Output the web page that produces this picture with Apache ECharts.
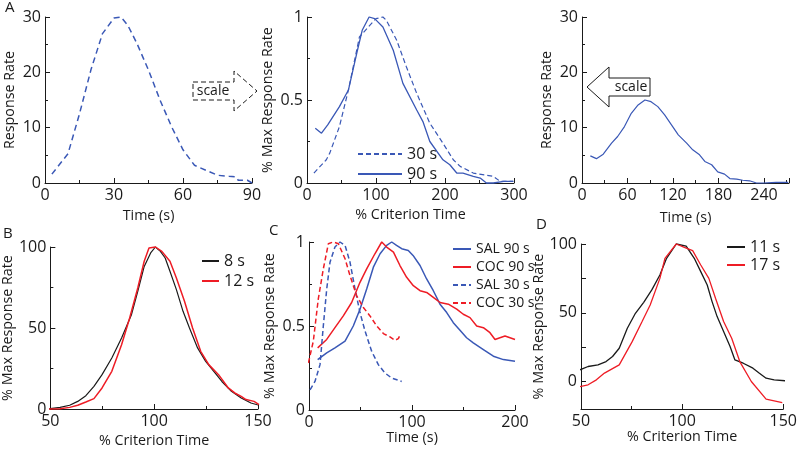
<!DOCTYPE html>
<html><head><meta charset="utf-8">
<script src="https://cdn.jsdelivr.net/npm/echarts@6/dist/echarts.min.js"></script>
<style>html,body{margin:0;padding:0;background:#fff}#c{width:800px;height:450px}</style>
</head><body><div id="c"></div>
<script>
// Panel A (30 s, raw)
const aTime = [3,10,15,20,25,30,33,36,40,45,50,55,60,65,70,75,80,83,84,88,90];
const aRate = [1.6,5.3,12.5,20.5,27,29.8,30,28.5,25.2,20.4,15,10.2,6,3.2,2.3,1.4,1.2,1.1,0.5,0.5,0];
// Panel A middle (scaled)
const midX30 = [10,28,33,47,60,76,91,100,110,115,130,144,159,178,197,212,222,241,270,280,299];
const mid30 = [0.06,0.14,0.18,0.34,0.56,0.88,0.95,0.99,1.0,0.98,0.86,0.70,0.54,0.36,0.24,0.14,0.10,0.06,0.04,0.01,0.01];
const midX90 = [12,21,30,47,60,72,80,90,98,110,125,139,159,168,178,197,207,217,226,241,251,260,270,285,299];
const mid90 = [0.33,0.30,0.35,0.46,0.56,0.78,0.92,1.0,0.99,0.94,0.80,0.60,0.44,0.37,0.25,0.14,0.11,0.06,0.06,0.04,0.03,0,0,0.01,0.01];
// Panel A right (90 s, raw)
const rTime = [11,19,28,39,47,56,65,74,83,91,100,109,118,127,138,146,155,162,171,179,188,195,204,212,221,230,239,256,272];
const rRate = [4.9,4.4,5.2,7.2,8.4,10.2,12.6,14.1,15,14.7,13.8,12.3,10.5,8.7,7.2,6,5.1,3.9,3.3,2.0,1.6,0.8,0.7,0.5,0.4,0,0,0.1,0.1];
// Panel B
const bX8 = [48,50,54.7,59.3,63.2,67.1,71,74.9,79.6,84.3,89,92.1,95.2,98.3,100.6,103,105.3,107.6,110.7,113.9,117,120.9,124.8,129.4,132.6,137.2,141.9,146.6,150.5];
const b8 = [0,0.2,1,2.3,4.7,8.2,14,21.2,31.5,43.8,58,72.6,88,96.3,100,97.3,93.2,85,73.7,60.3,50,37.7,29.4,22.2,17,10.9,6.8,3.7,2.3];
const bX12 = [47.4,54.7,59.3,63.2,67.1,71,74.9,79.6,84.3,88.2,92.1,95.2,97.5,100.6,103.7,107.6,110.7,114.6,118.5,122.4,126.3,131,135.7,138.8,141.9,144.2,148.1,150.5];
const b12 = [0,0.2,1,2.3,4.3,6.4,13,23.3,39.7,56.2,74.7,91.2,99.4,100,97.3,91.2,80.9,66.5,50,35.6,27.4,21.2,13,9.9,7.8,5.8,4.7,2.7];
// Panel C
const cXsal90 = [8.4,17.2,25.2,35,43,49.5,56,62.5,69,75.4,80.3,85,90,96.4,101,107.8,114.2,120.7,127.2,133.7,140.1,146.6,153,159.5,169.3,179,188.7,200];
const cSal90 = [0.30,0.34,0.37,0.41,0.5,0.6,0.72,0.85,0.93,0.98,1.0,0.98,0.96,0.95,0.92,0.86,0.78,0.71,0.63,0.58,0.52,0.475,0.43,0.40,0.36,0.32,0.30,0.29];
const cXcoc90 = [8.4,17.2,25.2,33.3,41.4,49.5,56,64,70.6,75.4,82,88.3,94.8,101.3,107.8,114.2,120.7,127.2,135.3,143.4,149.8,156.3,162.8,169.3,175.7,180.6,185.4,190.3,200];
const cCoc90 = [0.37,0.42,0.49,0.56,0.64,0.76,0.84,0.93,1.0,0.97,0.94,0.86,0.79,0.74,0.71,0.70,0.67,0.64,0.63,0.60,0.57,0.55,0.50,0.49,0.46,0.42,0.43,0.44,0.42];
const cXsal30 = [1,5.8,10.7,13.9,17.2,20.4,25.2,30.1,35,39.8,44.7,49.5,54.4,60.8,67.3,73.8,80.3,90];
const cSal30 = [0.12,0.17,0.27,0.5,0.72,0.88,0.97,1.0,0.98,0.88,0.72,0.58,0.47,0.35,0.27,0.22,0.19,0.17];
const cXcoc30 = [-0.6,4.2,9,13.9,18.8,23.6,28.5,35,39.8,46.3,52.8,59.2,65.7,72.2,78.6,83.5,86.7,88.3];
const cCoc30 = [0.28,0.41,0.66,0.84,0.99,1.0,0.99,0.9,0.8,0.68,0.61,0.56,0.50,0.455,0.435,0.415,0.425,0.445];
// Panel D
const dX11 = [49.5,53.5,58.4,62.4,65.6,68.9,72.9,76.9,81,85,89,92.3,97.1,102,106,109.2,112.4,114.8,117.3,120.5,123.7,126.1,130.2,135,138.2,141.5,145.5,151.1];
const d11 = [8.5,10.9,12.1,14.5,18.2,24.2,38.7,49.6,57.6,66.6,77.5,89.6,100,98.5,89.6,79.9,70.2,58.1,47.2,36.3,25.4,15.7,13.3,9.7,6,2.4,1.2,0.5];
const dX17 = [46,53.5,57.6,61.6,68.9,75.3,80.2,84.2,89,91.5,97.1,101.1,105.2,109.2,113.2,116.5,120.5,124.5,128.5,134.2,141.5,149.5];
const d17 = [-4.8,-2.4,1.2,6.1,12.1,29,43.6,55.7,75,89.6,100,97.6,95.2,84.7,75,60.5,43.6,31.5,14.5,0,-12.8,-15.3];
// Panel D tick positions
const dYTicks = [0,25,50,75,100];
const dYLabels = [0,50,100];

const FONT = '"Open Sans", sans-serif';
const INK = '#1a1a1a';
const BLUE = '#3a58b6';
const RED = '#ee1c25';
const FS = 15;
const NFS = 14.3;

function zip(xs, ys){ return xs.map((x,i)=>[x, ys[i]]); }

function axBase(idx, min, max, interval, name, gap){
  return {type:'value', gridIndex:idx, min, max, interval, name, nameLocation:'middle', nameGap:gap,
    nameTextStyle:{color:INK, fontSize:NFS, fontFamily:FONT},
    axisLine:{show:true, onZero:false, lineStyle:{color:INK, width:1}},
    axisTick:{show:true, inside:true, length:5, lineStyle:{color:INK, width:1}},
    minorTick:{show:true, splitNumber:2, length:3, lineStyle:{color:INK, width:1}},
    splitLine:{show:false}, minorSplitLine:{show:false},
    axisLabel:{color:INK, fontSize:FS+1, fontFamily:FONT, margin:4, showMaxLabel: max % interval === 0}};
}

function ln(name, idx, data, color, dashed, w){
  return {type:'line', name, xAxisIndex:idx, yAxisIndex:idx, data, symbol:'none', clip:false,
    lineStyle:{color, width:w||1.3, type: dashed ? dashed : 'solid'}, itemStyle:{color}, animation:false};
}

const yD = axBase(5, -20, 100, 5, '% Max Response Rate', 35);
yD.axisTick.customValues = dYTicks;
yD.axisLabel.customValues = dYLabels;
yD.axisLabel.showMaxLabel = true;
yD.minorTick = {show:false};

const chart = echarts.init(document.getElementById('c'));
const legText = {color:INK, fontSize:FS+1, fontFamily:FONT};
chart.setOption({
  backgroundColor:'#fff',
  animation:false,
  grid:[
    {left:45, top:17, width:207, height:166},
    {left:307, top:17, width:207, height:166},
    {left:582, top:17, width:207, height:166},
    {left:43, top:247, width:215, height:162},
    {left:309, top:242, width:206, height:168},
    {left:581, top:244, width:207, height:165}
  ],
  xAxis:[
    axBase(0, 0, 90, 30, 'Time (s)', 26),
    axBase(1, 0, 300, 100, '% Criterion Time', 25),
    axBase(2, 0, 273, 60, 'Time (s)', 28),
    axBase(3, 50, 150, 50, '% Criterion Time', 25),
    axBase(4, 0, 200, 100, 'Time (s)', 18),
    axBase(5, 50, 150, 50, '% Criterion Time', 20)
  ],
  yAxis:[
    axBase(0, 0, 30, 10, 'Response Rate', 28),
    axBase(1, 0, 1, 0.5, '% Max Response Rate', 32),
    axBase(2, 0, 30, 10, 'Response Rate', 28),
    axBase(3, 0, 100, 50, '% Max Response Rate', 31),
    axBase(4, 0, 1, 0.5, '% Max Response Rate', 32),
    yD
  ],
  legend:[
    {data:['30 s','90 s'], left:352, top:141, orient:'vertical', itemWidth:44, itemHeight:14, itemGap:4, itemTextGap:3, textStyle:legText, itemStyle:{opacity:0}},
    {data:['8 s','12 s'], left:196, top:248, orient:'vertical', itemWidth:17, itemHeight:14, itemGap:4, textStyle:legText, itemStyle:{opacity:0}},
    {data:['SAL 90 s','COC 90 s','SAL 30 s','COC 30 s'], left:447, top:237, orient:'vertical', itemWidth:18, itemHeight:14, itemGap:4, itemTextGap:3, itemStyle:{opacity:0}, textStyle:{color:INK, fontSize:14, fontFamily:FONT}},
    {data:['11 s','17 s'], left:721, top:234, orient:'vertical', itemWidth:18, itemHeight:14, itemGap:2, itemTextGap:2, textStyle:legText, itemStyle:{opacity:0}}
  ],
  series:[
    ln('A raw 30', 0, zip(aTime, aRate), BLUE, [6,4], 1.5),
    ln('30 s', 1, zip(midX30, mid30), BLUE, [5,3], 1.2),
    ln('90 s', 1, zip(midX90, mid90), BLUE, null, 1.3),
    ln('A raw 90', 2, zip(rTime, rRate), BLUE, null, 1.2),
    ln('8 s', 3, zip(bX8, b8), INK, null, 1.2),
    ln('12 s', 3, zip(bX12, b12), RED, null, 1.5),
    ln('SAL 90 s', 4, zip(cXsal90, cSal90), BLUE, null, 1.5),
    ln('COC 90 s', 4, zip(cXcoc90, cCoc90), RED, null, 1.5),
    ln('SAL 30 s', 4, zip(cXsal30, cSal30), BLUE, [5,3], 1.5),
    ln('COC 30 s', 4, zip(cXcoc30, cCoc30), RED, [5,3], 1.5),
    ln('11 s', 5, zip(dX11, d11), INK, null, 1.3),
    ln('17 s', 5, zip(dX17, d17), RED, null, 1.3)
  ],
  graphic:[
    {type:'text', left:5, top:0, style:{text:'A', font:'15px '+FONT, fill:INK}},
    {type:'text', left:3, top:226, style:{text:'B', font:'15px '+FONT, fill:INK}},
    {type:'text', left:269, top:223, style:{text:'C', font:'15px '+FONT, fill:INK}},
    {type:'text', left:536, top:217, style:{text:'D', font:'15px '+FONT, fill:INK}},
    {type:'polygon', shape:{points:[[193,82],[234,82],[234,71],[257,91],[234,111],[234,100],[193,100]]},
      style:{fill:'#fff', stroke:INK, lineWidth:1, lineDash:[5,3]}},
    {type:'text', x:213, y:91, style:{text:'scale', font:'14px '+FONT, fill:INK, align:'center', verticalAlign:'middle'}},
    {type:'polygon', shape:{points:[[587,87],[609,67],[609,78],[650,78],[650,96],[609,96],[609,107]]},
      style:{fill:'#fff', stroke:INK, lineWidth:1}},
    {type:'text', x:631, y:87, style:{text:'scale', font:'14px '+FONT, fill:INK, align:'center', verticalAlign:'middle'}}
  ]
});
</script></body></html>
